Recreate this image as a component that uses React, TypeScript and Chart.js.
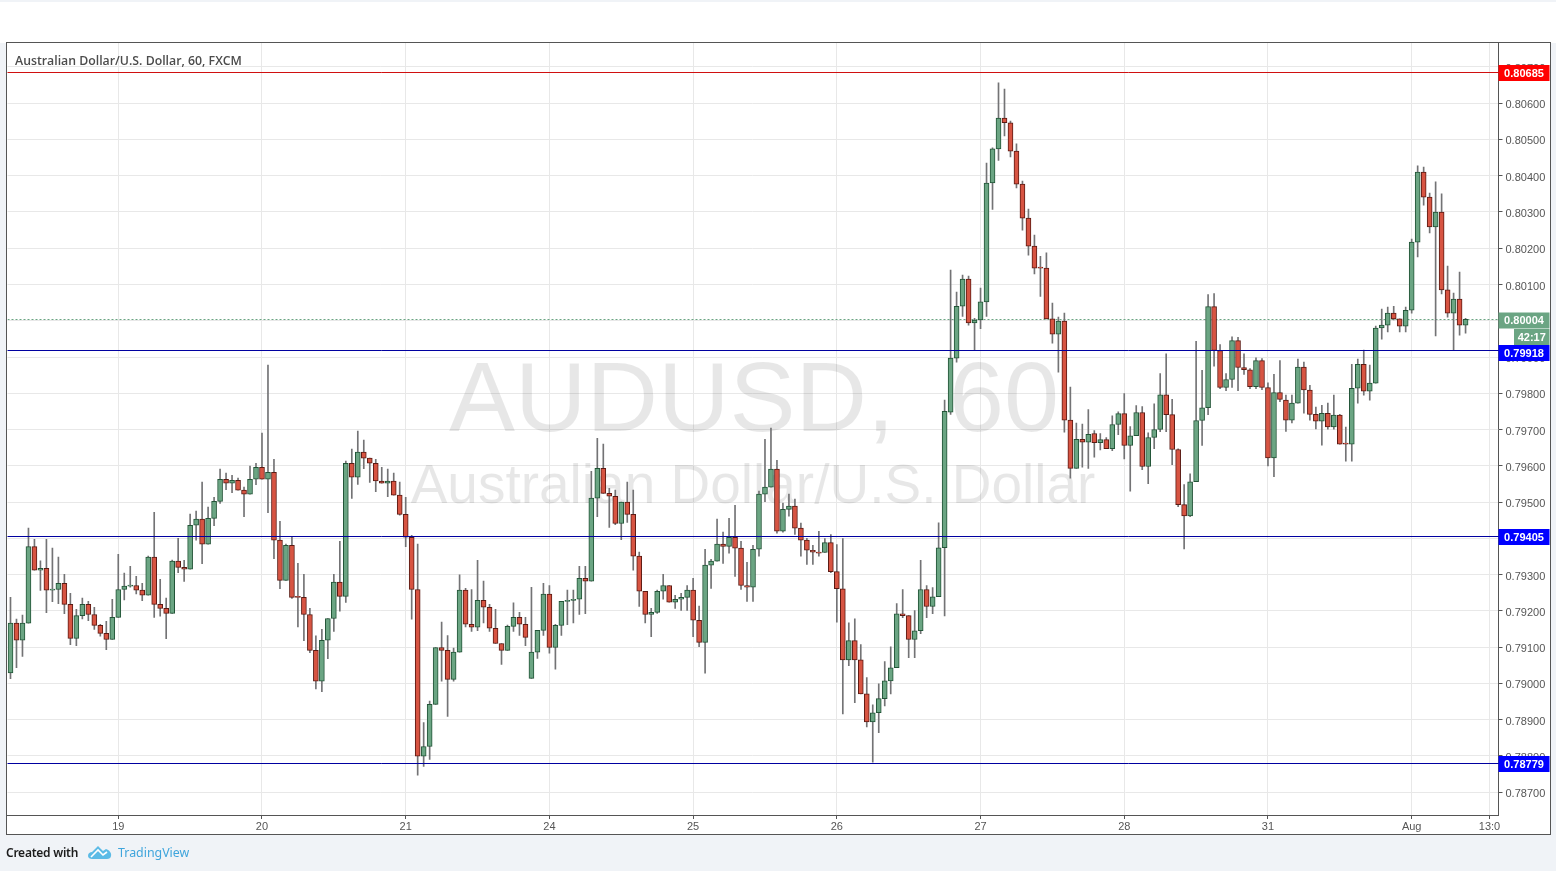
import React, { useEffect, useRef } from "react";
import { Chart, registerables } from "chart.js";

Chart.register(...registerables);

// Prices are in units of 0.00001 (79029 = 0.79029)
const opens = [
79029,79166,79119,79166,79377,79312,79317,79257,79259,79276,
79218,79124,79187,79218,79190,79160,79138,79121,79182,79259,
79268,79270,79257,79243,79348,79218,79207,79193,79337,79320,
79315,79436,79453,79384,79455,79502,79563,79552,79560,79533,
79522,79563,79596,79563,79582,79395,79284,79381,79238,79237,
79190,79091,79006,79119,79179,79279,79240,79607,79569,79638,
79621,79607,79558,79552,79558,79519,79466,79403,79259,78799,
78826,78942,79099,79091,79011,79086,79257,79163,79155,79229,
79210,79152,79110,79091,79157,79182,79163,79014,79086,79146,
79246,79099,79160,79226,79229,79232,79290,79282,79511,79593,
79524,79516,79441,79500,79466,79351,79254,79190,79196,79254,
79270,79224,79232,79237,79257,79174,79113,79326,79337,79384,
79378,79403,79373,79270,79265,79370,79522,79541,79591,79420,
79480,79489,79428,79395,79367,79362,79361,79388,79308,79261,
79065,79118,79065,78971,78894,78919,78958,79007,79043,79192,
79187,79121,79145,79259,79212,79239,79374,79748,79897,80040,
80115,79994,80002,80052,80380,80474,80559,80546,80468,80377,
80283,80206,80146,80145,80005,79963,79999,79726,79593,79673,
79665,79689,79664,79672,79647,79714,79744,79656,79683,79747,
79598,79678,79700,79796,79741,79645,79493,79462,79556,79725,
79760,80039,79918,79816,79838,79945,79871,79865,79818,79890,
79816,79622,79802,79781,79726,79773,79872,79809,79742,79723,
79745,79707,79740,79661,79660,79814,79880,79806,79828,79980,
79988,80021,80005,79985,80029,80217,80410,80341,80259,80300,
80085,80021,80060,79988,
];
const highs = [
79237,79177,79188,79428,79397,79338,79397,79373,79348,79301,
79248,79204,79235,79226,79210,79163,79171,79232,79356,79304,
79323,79295,79276,79351,79472,79287,79235,79340,79400,79339,
79467,79475,79555,79486,79513,79591,79580,79574,79566,79541,
79599,79607,79690,79878,79618,79447,79384,79405,79331,79301,
79207,79131,79149,79179,79301,79392,79613,79646,79696,79671,
79621,79618,79596,79591,79580,79555,79513,79408,79384,78892,
78951,79099,79169,79132,79097,79299,79262,79259,79339,79282,
79218,79204,79110,79161,79222,79196,79182,79265,79146,79276,
79270,79163,79226,79257,79257,79323,79323,79585,79676,79660,
79538,79533,79500,79555,79533,79362,79254,79207,79257,79301,
79270,79243,79248,79270,79290,79213,79370,79342,79453,79417,
79455,79491,79392,79334,79381,79530,79673,79704,79615,79497,
79522,79508,79442,79400,79381,79419,79399,79410,79383,79399,
79167,79178,79107,79016,78941,78999,79060,79101,79220,79259,
79187,79201,79339,79270,79264,79443,79781,80140,80079,80126,
80123,80007,80090,80435,80477,80656,80639,80551,80488,80385,
80308,80236,80178,80187,80049,80010,80021,79817,79718,79715,
79755,79697,79689,79678,79738,79749,79799,79708,79766,79763,
79691,79771,79854,79909,79783,79647,79548,79578,79943,79863,
80072,80075,79934,79854,79956,79954,79909,79868,79898,79896,
79829,79852,79890,79795,79795,79894,79886,79822,79762,79767,
79773,79795,79742,79707,79880,79894,79919,79878,79985,80032,
80038,80040,80005,80038,80225,80427,80424,80352,80383,80350,
80151,80076,80134,80007,
];
const lows = [
79013,79043,79074,79166,79312,79256,79195,79225,79220,79192,
79107,79104,79178,79173,79149,79130,79093,79121,79182,79230,
79265,79247,79228,79243,79182,79185,79123,79193,79305,79281,
79315,79395,79330,79384,79435,79496,79534,79526,79533,79460,
79522,79548,79563,79471,79344,79261,79284,79234,79156,79118,
79085,78985,78977,79068,79143,79199,79223,79510,79549,79592,
79554,79529,79552,79515,79519,79464,79377,79177,78747,78771,
78790,78942,79006,78909,79006,79086,79156,79143,79145,79167,
79143,79110,79052,79091,79143,79132,79104,79014,79069,79132,
79083,79039,79132,79162,79167,79190,79192,79282,79460,79524,
79430,79438,79396,79444,79312,79212,79167,79129,79193,79232,
79224,79207,79201,79201,79129,79101,79028,79262,79337,79331,
79359,79295,79259,79226,79226,79351,79501,79541,79414,79417,
79461,79411,79351,79328,79328,79351,79361,79305,79169,78916,
79049,78947,78971,78880,78783,78864,78938,78971,79043,79181,
79071,79071,79137,79181,79192,79239,79186,79742,79886,80012,
79988,79919,79978,80012,80307,80442,80510,80452,80366,80250,
80181,80129,80067,80005,79938,79858,79693,79566,79593,79596,
79593,79624,79644,79647,79642,79686,79619,79530,79683,79589,
79551,79647,79694,79694,79603,79487,79371,79460,79556,79656,
79741,79875,79813,79807,79816,79807,79852,79813,79813,79810,
79600,79570,79777,79695,79718,79773,79745,79726,79702,79657,
79701,79701,79660,79613,79613,79773,79795,79781,79828,79949,
79969,80002,79969,79969,80021,80176,80319,80242,79958,80074,
80010,79919,79960,79966,
];
const closes = [
79166,79119,79166,79377,79312,79317,79257,79259,79276,79218,
79124,79187,79218,79190,79160,79138,79121,79182,79259,79268,
79270,79257,79243,79348,79218,79207,79193,79337,79320,79315,
79436,79453,79384,79455,79502,79563,79552,79560,79533,79522,
79563,79596,79563,79582,79395,79284,79381,79237,79237,79190,
79091,79006,79119,79179,79279,79240,79607,79569,79638,79621,
79607,79558,79552,79558,79519,79466,79403,79259,78799,78826,
78942,79099,79091,79011,79086,79257,79163,79155,79229,79210,
79152,79110,79091,79157,79182,79163,79127,79086,79146,79246,
79099,79160,79226,79229,79232,79290,79282,79511,79593,79524,
79516,79441,79500,79466,79351,79254,79190,79196,79254,79270,
79224,79232,79237,79257,79174,79113,79326,79337,79384,79378,
79403,79373,79270,79265,79370,79522,79541,79591,79420,79480,
79489,79428,79395,79367,79362,79359,79388,79308,79261,79065,
79118,79065,78971,78894,78919,78958,79007,79043,79192,79187,
79121,79145,79259,79212,79239,79374,79750,79897,80040,80115,
79994,80002,80052,80380,80474,80559,80546,80468,80377,80283,
80206,80145,80145,80005,79963,79999,79726,79593,79673,79665,
79687,79664,79672,79647,79714,79744,79656,79683,79747,79598,
79678,79700,79796,79741,79645,79493,79462,79556,79725,79760,
80039,79918,79816,79838,79945,79871,79865,79818,79890,79816,
79622,79802,79783,79726,79773,79872,79809,79742,79723,79745,
79707,79740,79660,79660,79814,79880,79806,79828,79980,79988,
80021,80005,79985,80029,80217,80410,80341,80259,80300,80085,
80021,80060,79988,80004,
];

const timeTickSlots = [18, 42, 66, 90, 114, 138, 162, 186, 210, 234, 247];
const timeTickLabels = ["19", "20", "21", "24", "25", "26", "27", "28", "31", "Aug", "13:0"];
const slotCount = 249;

const resistanceLevel = 0.80685;
const supportLevels = [0.79918, 0.79405, 0.78779];
const lastPrice = 0.80004;
const countdown = "42:17";

const UP = "#6ba583";
const DOWN = "#d75442";
const UP_BORDER = "#225437";
const DOWN_BORDER = "#5b1a13";
const WICK = "#737375";
const AXIS = "#555555";
const GRID = "#e8e8e8";
const PAGE = "#f0f3f7";
const SANS = "'Liberation Sans', Arial, sans-serif";

const categories = Array.from({ length: slotCount }, (_, i) => {
  const k = timeTickSlots.indexOf(i);
  return k >= 0 ? timeTickLabels[k] : "";
});
const px = (v: number) => v / 100000;
const isUp = opens.map((o, i) => closes[i] >= o);

const pagePlugin = {
  id: "page",
  beforeDraw(chart: any) {
    const { ctx } = chart;
    ctx.save();
    ctx.fillStyle = "#ffffff";
    ctx.fillRect(0, 0, 1556, 871);
    ctx.fillStyle = PAGE;
    ctx.fillRect(0, 0, 1556, 2);
    ctx.fillRect(0, 43, 6, 828);
    ctx.fillRect(1551, 43, 5, 828);
    ctx.fillRect(0, 835, 1556, 36);
    ctx.restore();
  },
  beforeDatasetsDraw(chart: any) {
    const { ctx, chartArea: a, scales } = chart;
    ctx.save();
    ctx.beginPath();
    ctx.rect(a.left, a.top, a.right - a.left, a.bottom - a.top);
    ctx.clip();
    ctx.fillStyle = "rgba(0,0,0,0.095)";
    ctx.textAlign = "left";
    ctx.textBaseline = "alphabetic";
    ctx.font = `99px ${SANS}`;
    (ctx as any).wordSpacing = "27px";
    ctx.fillText("AUDUSD, 60", 449, 431);
    (ctx as any).wordSpacing = "0px";
    ctx.textAlign = "center";
    ctx.font = `55px ${SANS}`;
    ctx.fillText("Australian Dollar/U.S. Dollar", 753, 503);
    const y = scales.y.getPixelForValue(lastPrice);
    ctx.strokeStyle = UP;
    ctx.setLineDash([2, 2]);
    ctx.lineWidth = 1;
    ctx.beginPath();
    ctx.moveTo(a.left, Math.floor(y) + 0.5);
    ctx.lineTo(a.right, Math.floor(y) + 0.5);
    ctx.stroke();
    ctx.restore();
  },
  afterDraw(chart: any) {
    const { ctx, chartArea: a, scales } = chart;
    const yScale = scales.y;
    ctx.save();
    ctx.setLineDash([]);
    const hline = (v: number, c: string) => {
      const y = Math.floor(yScale.getPixelForValue(v)) + 0.5;
      ctx.strokeStyle = c;
      ctx.lineWidth = 1;
      ctx.beginPath();
      ctx.moveTo(a.left, y);
      ctx.lineTo(a.right + 4, y);
      ctx.stroke();
    };
    hline(resistanceLevel, "#d01010");
    supportLevels.forEach((v) => hline(v, "#0000a0"));

    const tag = (text: string, cy: number, bg: string, x0 = a.right) => {
      ctx.fillStyle = bg;
      ctx.fillRect(x0, cy - 8, 1549.5 - x0, 16);
      ctx.fillStyle = "#ffffff";
      ctx.font = `bold 11px ${SANS}`;
      ctx.textAlign = "center";
      ctx.textBaseline = "middle";
      ctx.fillText(text, (x0 + 1549.5) / 2, cy + 0.5);
    };
    tag(lastPrice.toFixed(5), 320.5, UP);
    tag(countdown, 337, UP, 1514);
    tag(resistanceLevel.toFixed(5), 73, "#ff0000");
    tag(supportLevels[0].toFixed(5), 353, "#0000ff");
    tag(supportLevels[1].toFixed(5), 537, "#0000ff");
    tag(supportLevels[2].toFixed(5), 764, "#0000ff");

    ctx.fillStyle = "#4c4c4c";
    ctx.font = "600 12.3px 'Open Sans', sans-serif";
    ctx.textAlign = "left";
    ctx.textBaseline = "alphabetic";
    ctx.fillText("Australian Dollar/U.S. Dollar, 60, FXCM", 15, 65);

    ctx.strokeStyle = AXIS;
    ctx.lineWidth = 1;
    ctx.strokeRect(6.5, 42.5, 1544, 792);
    ctx.restore();
  },
};

export default function App() {
  const ref = useRef<HTMLCanvasElement>(null);
  useEffect(() => {
    const chart = new Chart(ref.current as HTMLCanvasElement, {
      data: {
        labels: categories,
        datasets: [
          {
            type: "bar",
            label: "Body",
            data: opens.map((o, i) => [px(o), px(closes[i])]),
            backgroundColor: isUp.map((u) => (u ? UP : DOWN)),
            borderColor: isUp.map((u) => (u ? UP_BORDER : DOWN_BORDER)),
            borderWidth: 1,
            borderSkipped: false,
            barThickness: 5,
            grouped: false,
            minBarLength: 1,
            order: 1,
          },
          {
            type: "bar",
            label: "Wick",
            data: lows.map((l, i) => [px(l), px(highs[i])]),
            backgroundColor: WICK,
            borderWidth: 0,
            barThickness: 1,
            grouped: false,
            order: 2,
          },
        ],
      } as any,
      options: {
        responsive: false,
        animation: false,
        devicePixelRatio: 1,
        layout: { padding: { left: 7.5, top: 43, right: 5.5, bottom: 37 } },
        plugins: { legend: { display: false }, tooltip: { enabled: false }, title: { display: false } },
        scales: {
          x: {
            type: "category",
            offset: true,
            grid: {
              offset: false,
              color: (c: any) => (categories[c.index] ? GRID : "transparent"),
              tickColor: (c: any) => (categories[c.index] ? AXIS : "transparent"),
              tickLength: 4,
            },
            border: { color: AXIS, display: true },
            ticks: {
              autoSkip: false,
              maxRotation: 0,
              color: AXIS,
              padding: 1,
              font: { family: SANS, size: 11 },
              callback: (_: any, i: number) => categories[i],
            },
            afterFit(s: any) {
              s.height = 19;
            },
          },
          y: {
            type: "linear",
            position: "right",
            min: 0.78637,
            max: 0.80766,
            grid: { color: GRID, tickColor: AXIS, tickLength: 4 },
            border: { color: AXIS, display: true },
            ticks: {
              stepSize: 0.001,
              includeBounds: false,
              color: AXIS,
              padding: 3,
              labelOffset: 2,
              font: { family: SANS, size: 11 },
              callback: (v: any) => Number(v).toFixed(5),
            },
            afterFit(s: any) {
              s.width = 52;
            },
          },
        },
      } as any,
      plugins: [pagePlugin] as any,
    });
    return () => chart.destroy();
  }, []);
  return (
    <div style={{ position: "absolute", left: 0, top: 0, width: 1556, height: 871, overflow: "hidden" }}>
      <canvas ref={ref} width={1556} height={871} style={{ display: "block", width: 1556, height: 871 }} />
      <span
        style={{
          position: "absolute",
          left: 6,
          top: 844,
          font: "600 12px/18px 'Noto Sans', sans-serif",
          color: "#1c1c1c",
          letterSpacing: "-0.25px",
        }}
      >
        Created with
      </span>
      <svg style={{ position: "absolute", left: 88, top: 845 }} width="24" height="15" viewBox="0 0 24 15">
        <path
          d="M0 11 C0 8 2 7 4 7 L10 1 L15 6 L18 4 C21 5 24 8 23 11 C23 13 21 14 19 14 L4 14 C2 14 0 13 0 11 Z"
          fill="#5cbbe6"
        />
        <path d="M3 12 L10 5 L15 10 L19 7" fill="none" stroke="#ffffff" strokeWidth="1.6" />
      </svg>
      <span
        style={{
          position: "absolute",
          left: 118,
          top: 844,
          font: "12.4px/18px 'Noto Sans', sans-serif",
          color: "#3fa5dc",
        }}
      >
        TradingView
      </span>
    </div>
  );
}
